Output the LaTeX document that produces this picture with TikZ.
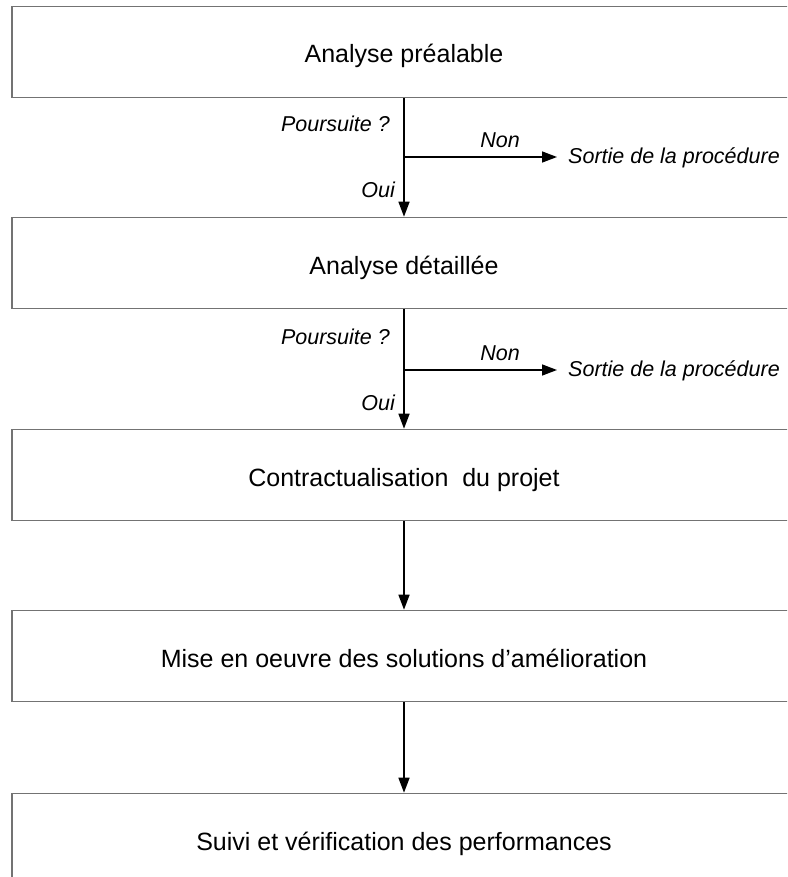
\documentclass[tikz,border=0pt]{standalone}
\usepackage{fontspec}
\setmainfont{Liberation Sans}
\usetikzlibrary{arrows.meta}
\begin{document}
\begin{tikzpicture}[x=1pt,y=-1pt,
  stepbox/.style={draw=black!55,line width=1.6pt,minimum width=784pt,minimum height=91pt,inner sep=0pt,
    text height=22pt,text depth=0pt,font=\fontsize{25}{30}\selectfont},
  lab/.style={inner sep=0pt,font=\fontsize{21.5}{26}\selectfont\itshape},
  arr/.style={line width=1.5pt,-{Triangle[length=15pt,width=11pt]}},
  ln/.style={line width=1.5pt}]
\useasboundingbox (0,0) rectangle (787,877);
\clip (0,0) rectangle (787,877);
\node[stepbox] (b1) at (404,52) {Analyse préalable};
\node[stepbox] (b2) at (404,263) {Analyse détaillée};
\node[stepbox] (b3) at (404,475) {Contractualisation\ \ du projet};
\node[stepbox] (b4) at (404,656) {Mise en oeuvre des solutions d’amélioration};
\node[stepbox] (b5) at (404,839) {Suivi et vérification des performances};
% branch 1
\coordinate (j1) at (b1.south |- 0,157);
\node[lab,anchor=west,inner xsep=11pt] (s1) at (557,158) {Sortie de la procédure};
\node[lab,anchor=east] (p1) at (390,124) {Poursuite ?};
\node[lab] (n1) at (500,140) {Non};
\node[lab,anchor=east] (o1) at (395,190) {Oui};
\draw[ln] (b1.south) -- (j1);
\draw[arr] (j1) -- (b2.north);
\draw[arr] (j1) -- (j1 -| s1.west);
% branch 2
\coordinate (j2) at (b2.south |- 0,370);
\node[lab,anchor=west,inner xsep=11pt] (s2) at (557,371) {Sortie de la procédure};
\node[lab,anchor=east] (p2) at (390,337) {Poursuite ?};
\node[lab] (n2) at (500,353) {Non};
\node[lab,anchor=east] (o2) at (395,403) {Oui};
\draw[ln] (b2.south) -- (j2);
\draw[arr] (j2) -- (b3.north);
\draw[arr] (j2) -- (j2 -| s2.west);
% plain arrows
\draw[arr] (b3.south) -- (b4.north);
\draw[arr] (b4.south) -- (b5.north);
\end{tikzpicture}
\end{document}
